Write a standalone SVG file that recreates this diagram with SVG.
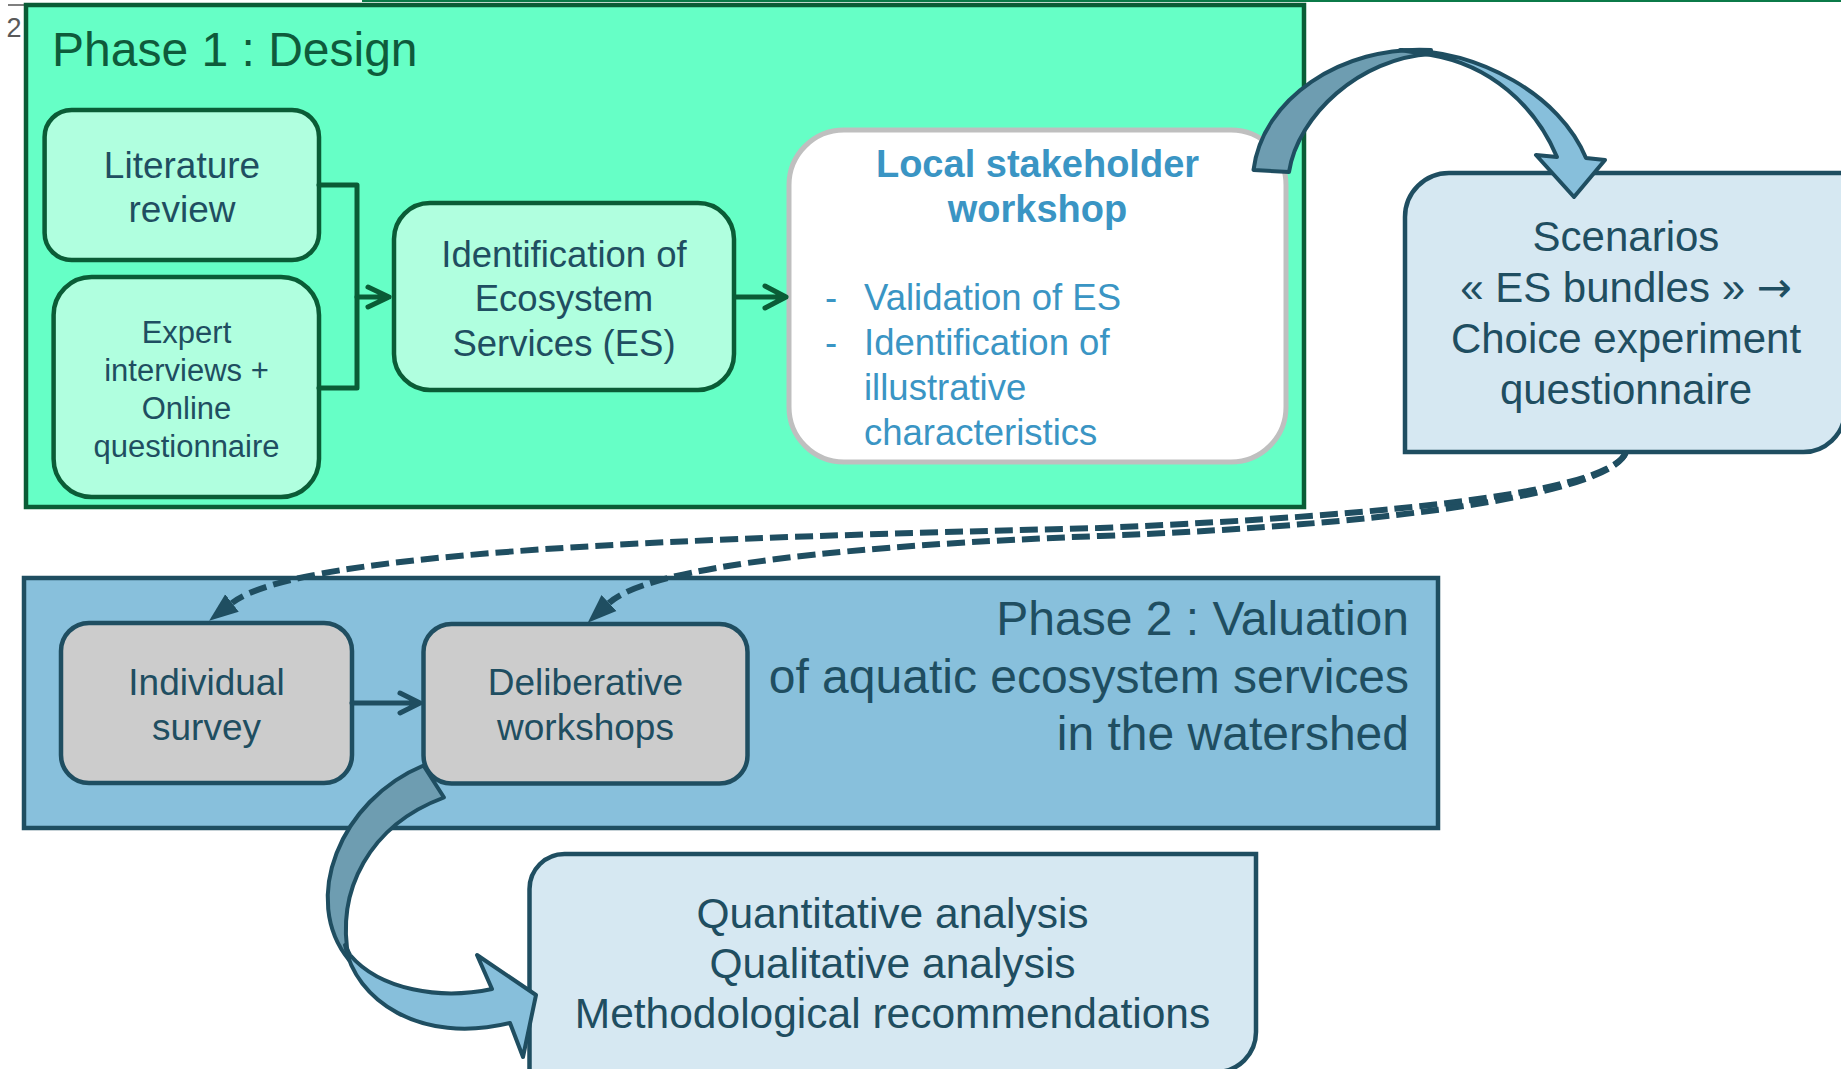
<svg xmlns="http://www.w3.org/2000/svg" width="1841" height="1069" viewBox="0 0 1841 1069">
<style>
text{font-family:"Liberation Sans",Arial,sans-serif;}
.g1{fill:#b0ffdf;stroke:#0a5c36;stroke-width:4.5;}
.gline{fill:none;stroke:#0a5c36;stroke-width:5;stroke-linecap:round;stroke-linejoin:round;}
.bline{fill:none;stroke:#1f4e61;stroke-width:5;stroke-linecap:round;stroke-linejoin:round;}
.t{fill:#1f4e61;text-anchor:middle;}
.blue{fill:#3a95c4;}
.grey{fill:#cccccc;stroke:#1f4e61;stroke-width:4.5;}
.lb{fill:#d6e8f2;stroke:#1f4e61;stroke-width:4.5;}
.dash{fill:none;stroke:#1f4e61;stroke-width:6;stroke-dasharray:18 7;}
.back{fill:#6e9db1;stroke:#1f4e61;stroke-width:4;stroke-linejoin:round;}
.front{fill:#87bfdb;stroke:#1f4e61;stroke-width:4;stroke-linejoin:round;}
</style>
<defs>
<marker id="tri" viewBox="0 -12 30 24" refX="0" refY="0" markerWidth="30" markerHeight="24" markerUnits="userSpaceOnUse" orient="auto">
<path d="M0,-11 L29,0 L0,11 Z" fill="#1f4e61"/>
</marker>
</defs>
<rect width="1841" height="1069" fill="#ffffff"/>
<line x1="8" y1="5" x2="26" y2="5" stroke="#7f7f7f" stroke-width="2"/>
<text x="6.5" y="37" font-size="27" fill="#595959">2</text>
<line x1="362" y1="1" x2="1841" y2="1" stroke="#0b7a48" stroke-width="2"/>

<g id="phase1">
<rect x="26" y="5" width="1278" height="502" fill="#66ffc6" stroke="#0a5c36" stroke-width="4.5"/>
<text x="52" y="66" font-size="48" fill="#0e5b3b">Phase 1 : Design</text>
</g>
<g id="literature">
<rect class="g1" x="44.6" y="110" width="274.4" height="150" rx="27"/>
<text class="t" font-size="37" x="182" y="178">Literature</text>
<text class="t" font-size="37" x="182" y="222">review</text>
</g>
<g id="expert">
<rect class="g1" x="53.6" y="277" width="265.4" height="220" rx="38"/>
<text class="t" font-size="31" x="186.5" y="343">Expert</text>
<text class="t" font-size="31" x="186.5" y="381">interviews +</text>
<text class="t" font-size="31" x="186.5" y="419">Online</text>
<text class="t" font-size="31" x="186.5" y="457">questionnaire</text>
</g>
<g id="identification">
<rect class="g1" x="394" y="203" width="340" height="187" rx="36"/>
<text class="t" font-size="36.5" x="564" y="267">Identification of</text>
<text class="t" font-size="36.5" x="564" y="311">Ecosystem</text>
<text class="t" font-size="36.5" x="564" y="356">Services (ES)</text>
</g>
<g id="local-workshop">
<rect x="789" y="130" width="497" height="332" rx="55" fill="#ffffff" stroke="#bfbfbf" stroke-width="5"/>
<text x="1037.5" y="177" font-size="38" font-weight="bold" class="blue" text-anchor="middle">Local stakeholder</text>
<text x="1037.5" y="222" font-size="38" font-weight="bold" class="blue" text-anchor="middle">workshop</text>
<text x="825" y="310" font-size="36.5" class="blue">-</text>
<text x="864" y="310" font-size="36.5" class="blue">Validation of ES</text>
<text x="825" y="355" font-size="36.5" class="blue">-</text>
<text x="864" y="355" font-size="36.5" class="blue">Identification of</text>
<text x="864" y="400" font-size="36.5" class="blue">illustrative</text>
<text x="864" y="445" font-size="36.5" class="blue">characteristics</text>
</g>
<g id="scenarios">
<path class="lb" d="M1405,452 V217 A44,44 0 0 1 1449,173 H1845 V410 A42,42 0 0 1 1800,452 Z"/>
<text class="t" font-size="42" x="1626" y="251">Scenarios</text>
<text class="t" font-size="42" x="1626" y="302">« ES bundles » <tspan font-family="'DejaVu Sans',sans-serif">→</tspan></text>
<text class="t" font-size="42" x="1626" y="353">Choice experiment</text>
<text class="t" font-size="42" x="1626" y="404">questionnaire</text>
</g>
<g id="phase2">
<rect x="24" y="578" width="1414" height="250" fill="#88c0dc" stroke="#1f4e61" stroke-width="4.5"/>
<text x="1409" y="635" font-size="48" fill="#1f4e61" text-anchor="end">Phase 2 : Valuation</text>
<text x="1409" y="693" font-size="48" fill="#1f4e61" text-anchor="end">of aquatic ecosystem services</text>
<text x="1409" y="750" font-size="48" fill="#1f4e61" text-anchor="end">in the watershed</text>
</g>
<g id="individual-survey">
<rect class="grey" x="61" y="623" width="291" height="160" rx="28"/>
<text class="t" font-size="37" x="206.5" y="695">Individual</text>
<text class="t" font-size="37" x="206.5" y="740">survey</text>
</g>
<g id="deliberative-workshops">
<rect class="grey" x="423.5" y="624" width="324" height="159.5" rx="28"/>
<text class="t" font-size="37" x="585.5" y="695">Deliberative</text>
<text class="t" font-size="37" x="585.5" y="740">workshops</text>
</g>
<g id="analysis">
<path class="lb" d="M529.5,1075 V889 A35,35 0 0 1 564.5,854 H1256 V1032 A40,40 0 0 1 1216,1072 Z"/>
<text class="t" font-size="42.5" x="892.5" y="928">Quantitative analysis</text>
<text class="t" font-size="42.5" x="892.5" y="978">Qualitative analysis</text>
<text class="t" font-size="42.5" x="892.5" y="1028">Methodological recommendations</text>
</g>

<g id="connectors">
<path class="gline" d="M319,185 H357 V388 H319"/>
<path class="gline" d="M357,297 H389 M368,287 L389,297 L368,307"/>
<path class="gline" d="M735,297 H786 M765,286 L786,297 L765,308"/>
<path class="bline" d="M352,703 H420 M400,693 L420,703 L400,713"/>
<path class="dash" d="M1626,452 C1612,492 1400,515 1100,528 C700,538 300,550 232,603" marker-end="url(#tri)"/>
<path class="dash" d="M1626,452 C1612,492 1410,524 1100,536 C860,545 650,565 609,603" marker-end="url(#tri)"/>
<path class="back" d="M1253.5,170 C1262,100 1340,45 1431,50 L1431,54 C1360,58 1298,115 1289,172 Z"/>
<path class="front" d="M1400,50 C1480,50 1560,95 1586,158 L1605,160 L1574,197 L1536,155 L1557,157 C1535,105 1490,65 1431,55 Z"/>
<path class="back" d="M423.5,765.5 C340,800 300,900 349,960 C335,890 370,825 444,797.5 Z"/>
<path class="front" d="M345,945 C355,1000 420,1045 510,1023 L523,1057 L536,995 L477,955 L492,989 C440,1000 380,990 350,955 Z"/>
</g>
</svg>
